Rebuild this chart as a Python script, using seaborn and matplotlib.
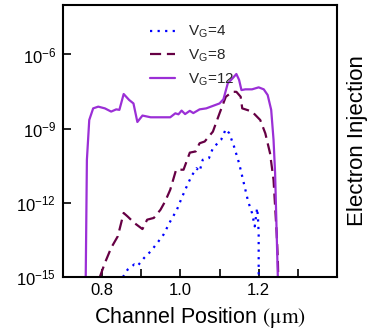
import numpy as np
import pandas as pd
import matplotlib
matplotlib.use("Agg")
import matplotlib.pyplot as plt
import seaborn as sns

# ---- data (y values are log10 of injection) ----
x_vg4 = [0.853, 0.865, 0.882, 0.890, 0.907, 0.924, 0.941, 0.957, 0.974, 0.991,
         1.003, 1.016, 1.028, 1.041, 1.049, 1.057, 1.073, 1.083, 1.095, 1.104,
         1.116, 1.125, 1.137, 1.150, 1.162, 1.173, 1.183, 1.190, 1.196, 1.198,
         1.200, 1.200]
logy_vg4 = [-15.0, -14.70, -14.49, -14.56, -14.23, -13.96, -13.62, -13.28, -12.75, -12.28,
            -11.81, -11.34, -10.93, -10.60, -10.73, -10.26, -10.19, -9.79, -9.59, -9.45,
            -9.02, -9.19, -9.72, -10.40, -11.20, -11.94, -12.41, -12.95, -12.21, -12.55,
            -13.22, -15.0]

x_vg8 = [0.794, 0.807, 0.823, 0.840, 0.855, 0.865, 0.882, 0.903, 0.915, 0.932,
         0.949, 0.961, 0.974, 0.989, 1.008, 1.024, 1.039, 1.049, 1.062, 1.083,
         1.100, 1.116, 1.133, 1.143, 1.154, 1.158, 1.166, 1.183, 1.204, 1.217,
         1.229, 1.238, 1.242, 1.246, 1.249, 1.250]
logy_vg8 = [-15.0, -14.43, -13.82, -13.35, -12.41, -12.55, -12.81, -13.06, -12.68, -12.61,
            -12.28, -11.94, -11.47, -10.66, -10.66, -9.97, -9.92, -9.59, -9.52, -9.12,
            -8.38, -7.71, -7.51, -7.51, -7.71, -8.18, -8.22, -8.31, -8.65, -9.19,
            -9.99, -11.07, -12.14, -13.22, -14.30, -15.0]

x_vg12 = [0.758, 0.761, 0.767, 0.777, 0.790, 0.807, 0.823, 0.836, 0.844, 0.855,
          0.869, 0.880, 0.890, 0.903, 0.924, 0.949, 0.974, 0.987, 0.995, 1.003,
          1.012, 1.024, 1.033, 1.049, 1.066, 1.083, 1.100, 1.110, 1.121, 1.133,
          1.143, 1.150, 1.156, 1.166, 1.183, 1.200, 1.213, 1.223, 1.232, 1.238,
          1.242, 1.246, 1.249]
logy_vg12 = [-15.0, -10.26, -8.65, -8.18, -8.11, -8.18, -8.31, -8.22, -8.24, -7.60,
             -7.84, -7.98, -8.73, -8.47, -8.54, -8.54, -8.54, -8.38, -8.42, -8.27,
             -8.41, -8.28, -8.37, -8.22, -8.18, -8.08, -7.98, -7.81, -7.17, -6.97,
             -6.79, -7.03, -7.44, -7.41, -7.41, -7.33, -7.41, -7.64, -8.24, -9.45,
             -10.80, -13.22, -15.0]

labels = [r"V$_\mathregular{G}$=4", r"V$_\mathregular{G}$=8", r"V$_\mathregular{G}$=12"]
x_ticks = [0.8, 1.0, 1.2]
x_tick_labels = ["0.8", "1.0", "1.2"]
y_ticks = [1e-15, 1e-12, 1e-9, 1e-6]

frames = []
for xs, ly, lab in [(x_vg4, logy_vg4, labels[0]), (x_vg8, logy_vg8, labels[1]),
                    (x_vg12, logy_vg12, labels[2])]:
    frames.append(pd.DataFrame({"x": xs, "y": 10.0 ** np.array(ly), "series": lab}))
df = pd.concat(frames, ignore_index=True)

# ---- styling ----
sns.set_theme(style="white")
plt.rcParams["font.family"] = ["Liberation Sans", "DejaVu Sans"]
plt.rcParams["mathtext.fontset"] = "stix"

fig = plt.figure(figsize=(3.82, 3.33), dpi=100)
ax = fig.add_axes([0.165, 0.168, 0.717, 0.817])

palette = {labels[0]: "#0000ff", labels[1]: "#660044", labels[2]: "#9b2fd6"}
dashes = {labels[0]: (1, 2.4), labels[1]: (5, 2.6), labels[2]: ""}

sns.lineplot(data=df, x="x", y="y", hue="series", style="series", palette=palette,
             dashes=dashes, estimator=None, sort=False,
             linewidth=1.6, ax=ax, legend=True)

ax.set_yscale("log")
ax.set_xlim(0.7, 1.4)
ax.set_ylim(1e-15, 1e-4)
ax.set_yticks(y_ticks)
ax.yaxis.set_minor_locator(matplotlib.ticker.NullLocator())
ax.set_xticks(x_ticks)
ax.set_xticklabels(x_tick_labels)
ax.set_xticks([0.9, 1.1, 1.3], minor=True)

ax.tick_params(axis="both", which="both", direction="in", length=6, width=1.2,
               color="black", bottom=True, left=True, top=False, right=False)
ax.tick_params(axis="both", which="major", labelsize=12, colors="black")
ax.tick_params(axis="x", which="major", pad=4)
ax.tick_params(axis="y", which="major", pad=5)

for s in ax.spines.values():
    s.set_color("black")
    s.set_linewidth(1.5)

ax.set_xlabel(r"Channel Position $(\mathrm{\mu m})$", fontsize=15.5, color="black", labelpad=5)
ax.set_ylabel("Electron Injection", fontsize=16, color="black", labelpad=7)
ax.yaxis.set_label_position("right")

ax.legend(frameon=False, loc="upper left", bbox_to_anchor=(0.318, 0.93),
          borderaxespad=0, borderpad=0, fontsize=11, handlelength=1.6,
          handletextpad=0.9, labelspacing=0.5)

fig.savefig("out.png", dpi=100)
